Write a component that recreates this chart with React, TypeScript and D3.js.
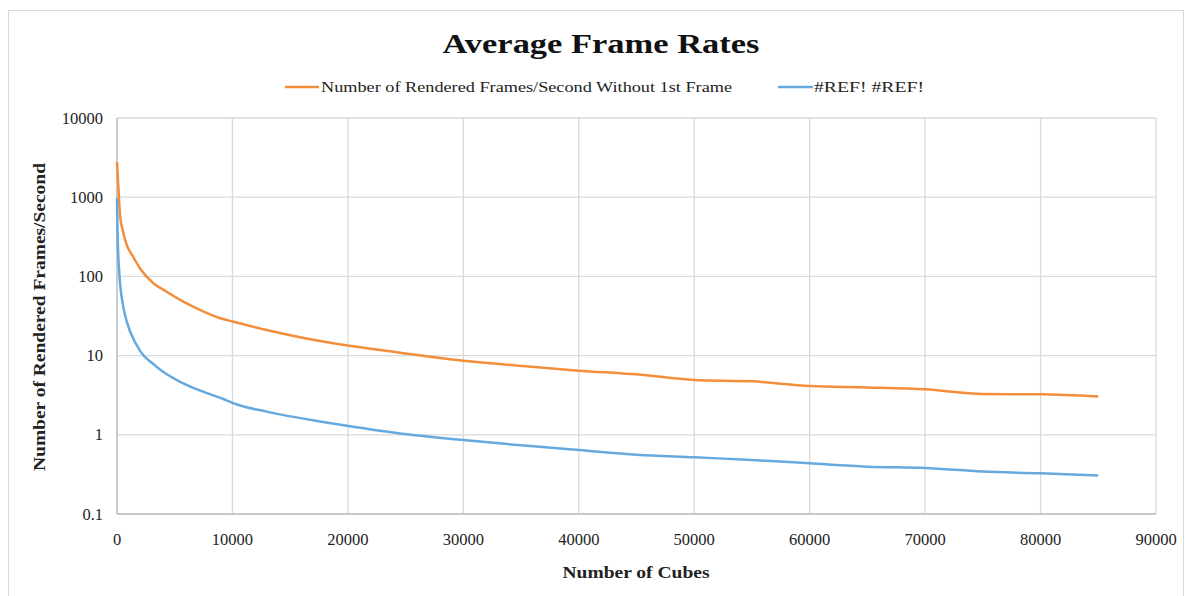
import React from "react";
import * as d3 from "d3";

const orangeCubes = [0, 150, 260, 500, 800, 1400, 2000, 3150, 4300, 5750, 7190, 8925, 10080, 12970, 15860, 18750, 21640, 24520, 30000, 35000, 40000, 45000, 50000, 55000, 60000, 65000, 70000, 75000, 80000, 85000];
const orangeFps = [2800, 1100, 600, 380, 260, 177, 126, 82, 64, 48, 37.7, 29.6, 26.8, 21, 17, 14.3, 12.4, 10.9, 8.6, 7.4, 6.46, 5.8, 4.92, 4.73, 4.13, 3.97, 3.75, 3.27, 3.24, 3.04];

const blueCubes = [0, 60, 200, 500, 840, 1700, 3440, 5750, 9210, 10080, 12970, 17590, 20040, 24520, 30000, 35000, 40000, 45000, 50000, 55000, 60000, 65000, 70000, 75000, 80000, 85000];
const blueFps = [970, 300, 110, 45, 27, 13.6, 7.2, 4.45, 2.83, 2.5, 1.96, 1.47, 1.29, 1.04, 0.86, 0.736, 0.643, 0.561, 0.52, 0.481, 0.436, 0.396, 0.38, 0.343, 0.327, 0.307];

const xTicks = [0, 10000, 20000, 30000, 40000, 50000, 60000, 70000, 80000, 90000];
const yTicks = [0.1, 1, 10, 100, 1000, 10000];
const yTickLabels = ["0.1", "1", "10", "100", "1000", "10000"];

const seriesNames = ["Number of Rendered Frames/Second Without 1st Frame", "#REF! #REF!"];
const title = "Average Frame Rates";
const xTitle = "Number of Cubes";
const yTitle = "Number of Rendered Frames/Second";

const ORANGE = "#F28E3C";
const BLUE = "#66A9DF";
const FONT = "'Liberation Serif', 'DejaVu Serif', serif";

export default function App() {
  const W = 1191, H = 596;
  const left = 117, right = 1156, top = 118, bottom = 514;
  const x = d3.scaleLinear().domain([0, 90000]).range([left, right]);
  const y = d3.scaleLog().domain([0.1, 10000]).range([bottom, top]);

  const line = d3
    .line<[number, number]>()
    .x((d) => x(d[0]))
    .y((d) => y(d[1]))
    .curve(d3.curveMonotoneX);

  const orangeData = orangeCubes.map((c, i) => [c, orangeFps[i]] as [number, number]);
  const blueData = blueCubes.map((c, i) => [c, blueFps[i]] as [number, number]);

  return (
    <svg width={W} height={H} style={{ position: "absolute", left: 0, top: 0, background: "#fff" }}>
      <rect x={8.5} y={10.5} width={1175} height={620} fill="#fff" stroke="#d9d9d9" strokeWidth={1} />
      <text x={601} y={53} textAnchor="middle" fontFamily={FONT} fontWeight="bold" fontSize={27} textLength={317} lengthAdjust="spacingAndGlyphs" fill="#111">
        {title}
      </text>
      {/* legend */}
      <line x1={285} x2={319} y1={87} y2={87} stroke={ORANGE} strokeWidth={2.5} />
      <text x={321} y={92} fontFamily={FONT} fontSize={15.5} textLength={411} lengthAdjust="spacingAndGlyphs" fill="#222">
        {seriesNames[0]}
      </text>
      <line x1={778} x2={813} y1={87} y2={87} stroke={BLUE} strokeWidth={2.5} />
      <text x={814} y={92} fontFamily={FONT} fontSize={15.5} textLength={110} lengthAdjust="spacingAndGlyphs" fill="#222">
        {seriesNames[1]}
      </text>
      {/* gridlines */}
      {xTicks.map((t) => (
        <line key={"gx" + t} x1={x(t)} x2={x(t)} y1={top} y2={bottom} stroke="#d9d9d9" strokeWidth={1.3} />
      ))}
      {yTicks.map((t) => (
        <line key={"gy" + t} x1={left} x2={right} y1={y(t)} y2={y(t)} stroke="#d9d9d9" strokeWidth={1.3} />
      ))}
      <line x1={left} x2={left} y1={top} y2={bottom} stroke="#bfbfbf" strokeWidth={1.3} />
      <line x1={left} x2={right} y1={bottom} y2={bottom} stroke="#bfbfbf" strokeWidth={1.3} />
      {/* tick labels */}
      {yTicks.map((t, i) => (
        <text key={"ty" + t} x={103} y={y(t) + 5.5} textAnchor="end" fontFamily={FONT} fontSize={16.5} fill="#222">
          {yTickLabels[i]}
        </text>
      ))}
      {xTicks.map((t) => (
        <text key={"tx" + t} x={x(t)} y={545} textAnchor="middle" fontFamily={FONT} fontSize={16.5} fill="#222">
          {String(t)}
        </text>
      ))}
      {/* axis titles */}
      <text x={636} y={578} textAnchor="middle" fontFamily={FONT} fontWeight="bold" fontSize={16.5} textLength={147} lengthAdjust="spacingAndGlyphs" fill="#222">
        {xTitle}
      </text>
      <text
        transform={`translate(45, 317) rotate(-90)`}
        textAnchor="middle"
        fontFamily={FONT}
        fontWeight="bold"
        fontSize={16.5}
        textLength={308}
        lengthAdjust="spacingAndGlyphs"
        fill="#222"
      >
        {yTitle}
      </text>
      {/* series */}
      <path d={line(orangeData) || ""} fill="none" stroke={ORANGE} strokeWidth={2.5} strokeLinejoin="round" />
      <path d={line(blueData) || ""} fill="none" stroke={BLUE} strokeWidth={2.5} strokeLinejoin="round" />
    </svg>
  );
}
